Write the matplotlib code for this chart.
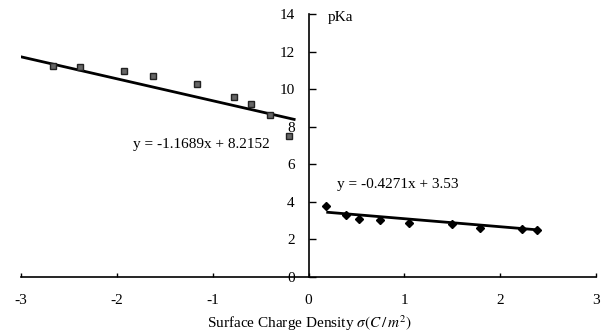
import matplotlib
matplotlib.use("Agg")
import matplotlib.pyplot as plt
import numpy as np

plt.rcParams['font.family'] = ['Liberation Serif', 'DejaVu Serif']
plt.rcParams['mathtext.fontset'] = 'stix'

# Negative-charge series (squares)
x_neg = [-2.67, -2.38, -1.93, -1.62, -1.16, -0.78, -0.60, -0.40, -0.20]
y_neg = [11.23, 11.20, 10.96, 10.70, 10.27, 9.60, 9.20, 8.60, 7.50]
# Positive-charge series (diamonds)
x_pos = [0.18, 0.39, 0.53, 0.75, 1.05, 1.50, 1.79, 2.23, 2.38]
y_pos = [3.80, 3.30, 3.10, 3.05, 2.90, 2.80, 2.60, 2.55, 2.50]

# Trendline coefficients
slope_neg, icpt_neg = -1.1689, 8.2152
slope_pos, icpt_pos = -0.4271, 3.53
fit_neg_range = [-3.0, -0.15]
fit_pos_range = [0.2, 2.4]

xticks = [-3, -2, -1, 0, 1, 2, 3]
yticks = [0, 2, 4, 6, 8, 10, 12, 14]

fig = plt.figure(figsize=(6.06, 3.34), dpi=100)
ax = fig.add_axes([0.0347, 0.1707, 0.9488, 0.7873])
ax.set_xlim(-3, 3)
ax.set_ylim(0, 14)

ax.spines['left'].set_position(('data', 0))
ax.spines['bottom'].set_position(('data', 0))
ax.spines['top'].set_visible(False)
ax.spines['right'].set_visible(False)
for s in ['left', 'bottom']:
    ax.spines[s].set_linewidth(1.2)
    ax.spines[s].set_color('black')

ax.set_xticks(xticks)
ax.set_yticks(yticks)
ax.set_xticklabels([str(t) for t in xticks])
ax.set_yticklabels([str(t) for t in yticks])
ax.tick_params(axis='x', direction='in', length=3, width=1, labelsize=11, pad=12)
ax.tick_params(axis='y', direction='in', length=5, width=1, labelsize=11, pad=10)

xn = np.array(fit_neg_range)
ax.plot(xn, slope_neg * xn + icpt_neg, color='black', lw=2.0, zorder=2)
xp = np.array(fit_pos_range)
ax.plot(xp, slope_pos * xp + icpt_pos, color='black', lw=2.0, zorder=2)

ax.plot(x_neg, y_neg, 's', color='#666666', markersize=4.5, markeredgecolor='#222222', zorder=3)
ax.plot(x_pos, y_pos, 'D', color='black', markersize=4.5, zorder=3)

ax.text(-1.83, 7.05, 'y = -1.1689x + 8.2152', fontsize=11, ha='left', va='center')
ax.text(0.3, 4.95, 'y = -0.4271x + 3.53', fontsize=11, ha='left', va='center')
ax.text(0.2, 13.8, 'pKa', fontsize=11, ha='left', va='center')

fig.text(0.51, 0.033, r'Surface Charge Density $\sigma(C\,/\,m^{2})$', fontsize=11,
         ha='center', va='center')

fig.savefig('out.png', dpi=100)
